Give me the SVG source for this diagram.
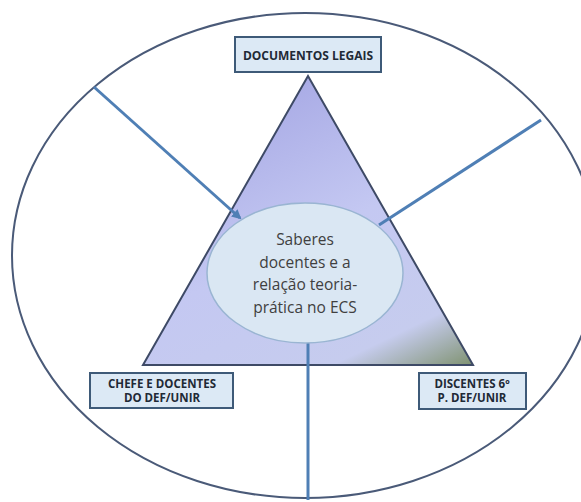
<svg xmlns="http://www.w3.org/2000/svg" width="581" height="502" viewBox="0 0 581 502">
<style>
.box{fill:#dce9f5;stroke:#3e5a78;stroke-width:2}
.boxt{font-family:"Open Sans","Liberation Sans",sans-serif;font-weight:bold;font-size:11.5px;fill:#1f2a36;text-anchor:middle}
.ct{font-family:"Open Sans","Liberation Sans",sans-serif;font-size:15.5px;fill:#404040;text-anchor:middle}
.conn{stroke:#4f7fb5;stroke-width:3;fill:none}
</style>
<defs>
<linearGradient id="tri" x1="0.45" y1="0" x2="1" y2="1">
<stop offset="0" stop-color="#a8aae5"/>
<stop offset="0.45" stop-color="#c4c8f2"/>
<stop offset="0.82" stop-color="#c6ccee"/>
<stop offset="1" stop-color="#7f9270"/>
</linearGradient>
<marker id="ah" viewBox="0 0 10 10" refX="8" refY="5" markerWidth="3.2" markerHeight="3.2" orient="auto" markerUnits="strokeWidth">
<path d="M0,0 L10,5 L0,10 z" fill="#4f7fb5"/>
</marker>
</defs>
<g id="outer"><ellipse cx="305" cy="255.5" rx="293" ry="242.5" fill="#ffffff" stroke="#4a5a78" stroke-width="2"/></g>
<g id="triangle"><polygon points="308,76 143,365 473,365" fill="url(#tri)" stroke="#3e4a66" stroke-width="2"/></g>
<g id="connectors">
<line class="conn" x1="94" y1="87" x2="240" y2="218" marker-end="url(#ah)"/>
<line class="conn" x1="541" y1="120" x2="379" y2="225"/>
<line class="conn" x1="308" y1="342" x2="308" y2="500"/>
</g>
<g id="center">
<ellipse cx="305" cy="273" rx="98" ry="70" fill="#dae7f3" stroke="#9ab5d2" stroke-width="1.5"/>
<text class="ct" x="305" y="245">Saberes</text>
<text class="ct" x="305" y="267.5">docentes e a</text>
<text class="ct" x="305" y="290">relação teoria-</text>
<text class="ct" x="305" y="312.5">prática no ECS</text>
</g>
<g id="documentos">
<rect class="box" x="235" y="37" width="146" height="35"/>
<text class="boxt" x="308" y="60" style="font-size:12px">DOCUMENTOS LEGAIS</text>
</g>
<g id="chefe">
<rect class="box" x="90" y="373" width="143" height="35"/>
<text class="boxt" x="162" y="387.5">CHEFE E DOCENTES</text>
<text class="boxt" x="162" y="402">DO DEF/UNIR</text>
</g>
<g id="discentes">
<rect class="box" x="419" y="373" width="107" height="36"/>
<text class="boxt" x="472" y="387.5">DISCENTES 6º</text>
<text class="boxt" x="472" y="402">P. DEF/UNIR</text>
</g>
</svg>
